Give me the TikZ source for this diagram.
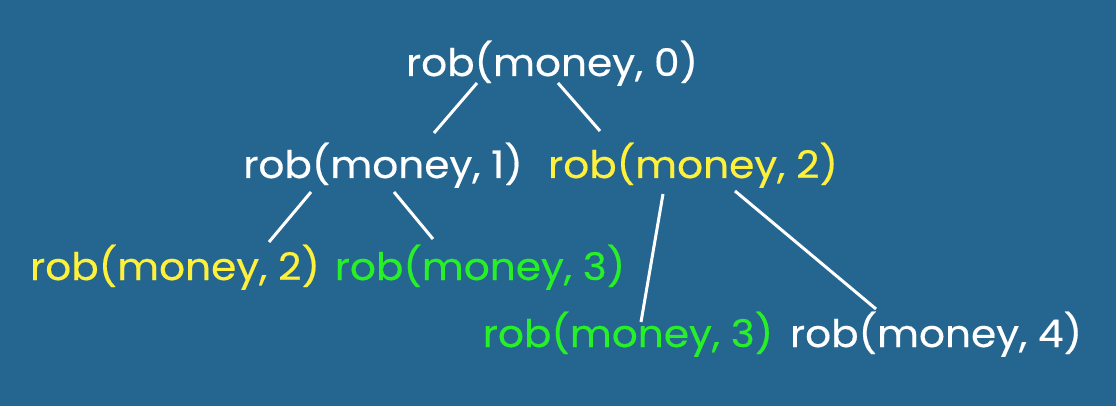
\documentclass[tikz,border=0pt]{standalone}
\usepackage{fontspec}
\setmainfont{Poppins}[FakeStretch=1.07,FakeBold=0.4]
\definecolor{bgblue}{RGB}{37,102,144}
\definecolor{memo}{RGB}{255,240,60}
\definecolor{fresh}{RGB}{40,240,40}
\begin{document}
\begin{tikzpicture}[x=1pt,y=-1pt,
  call/.style={anchor=base,inner sep=0pt,font=\fontsize{38}{41}\selectfont,text=white},
  edge/.style={draw=white,line width=3pt}]
\fill[bgblue] (0,0) rectangle (1116,406);
\useasboundingbox (0,0) rectangle (1116,406);
% call tree nodes (placed by baseline)
\node[call] (n0) at (552,76) {rob(money, 0)};
\node[call] (n1) at (383,178) {rob(money, 1)};
\node[call,text=memo] (n2) at (693,178) {rob(money, 2)};
\node[call,text=memo] (n3) at (175,280) {rob(money, 2)};
\node[call,text=fresh] (n4) at (480,280) {rob(money, 3)};
\node[call,text=fresh] (n5) at (628,347) {rob(money, 3)};
\node[call] (n6) at (936,347) {rob(money, 4)};
% branches
\draw[edge] ([xshift=-75pt,yshift=-7pt]n0.base) -- ([xshift=51pt,yshift=45pt]n1.base);
\draw[edge] ([xshift=6pt,yshift=-7pt]n0.base) -- ([xshift=-93pt,yshift=47pt]n2.base);
\draw[edge] ([xshift=-72pt,yshift=-14pt]n1.base) -- ([xshift=94pt,yshift=38pt]n3.base);
\draw[edge] ([xshift=11pt,yshift=-14pt]n1.base) -- ([xshift=-47pt,yshift=41pt]n4.base);
\draw[edge] ([xshift=-30pt,yshift=-16pt]n2.base) -- ([xshift=13pt,yshift=25pt]n5.base);
\draw[edge] ([xshift=42pt,yshift=-13pt]n2.base) -- ([xshift=-60pt,yshift=38pt]n6.base);
\end{tikzpicture}
\end{document}
